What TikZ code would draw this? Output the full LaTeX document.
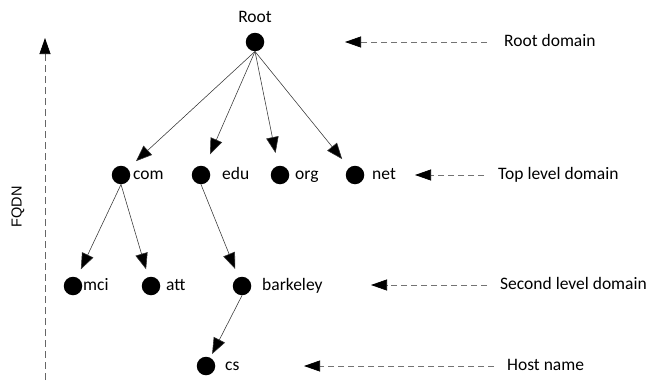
\documentclass[tikz,border=0pt]{standalone}
\usepackage{fontspec}
\setmainfont{Carlito}
\newfontfamily\axisfont{Liberation Sans}
\usetikzlibrary{arrows.meta}

\begin{document}
\begin{tikzpicture}[x=1pt,y=-1pt,
  dot/.style={circle,fill=black,minimum size=18.5pt,inner sep=0pt},
  lbl/.style={anchor=mid west,inner sep=0pt,font=\fontsize{17.5}{20}\selectfont},
  tree/.style={draw=black!80,line width=0.55pt,
    -{Triangle[length=16pt,width=12.5pt,fill=black]}},
  pointer/.style={draw=black!55,line width=0.7pt,dash pattern=on 6pt off 4pt,
    -{Triangle[length=16pt,width=11pt,color=black]}}]
  \useasboundingbox (0,0) rectangle (650,380);

  % domain tree
  \node[dot] (root) at (255,42) {};
  \node[anchor=base,inner sep=0pt,font=\fontsize{17.5}{20}\selectfont] (roottxt) at (255,22) {Root};

  \node[dot] (com) at (121,175) {};
  \node[dot] (edu) at (201,175) {};
  \node[dot] (org) at (280,175) {};
  \node[dot] (net) at (355,175) {};
  \node[lbl] (comtxt) at (133,177) {com};
  \node[lbl] (edutxt) at (222,177) {edu};
  \node[lbl] (orgtxt) at (295,177) {org};
  \node[lbl] (nettxt) at (372,177) {net};

  \node[dot] (mci) at (73,286) {};
  \node[dot] (att) at (151,286) {};
  \node[dot] (bark) at (242,286) {};
  \node[lbl] (mcitxt) at (83,288) {mci};
  \node[lbl] (atttxt) at (166,288) {att};
  \node[lbl] (barktxt) at (262,288) {barkeley};

  \node[dot] (cs) at (206,366) {};
  \node[lbl] (cstxt) at (225,368) {cs};

  \draw[tree,shorten >=11pt] (root.south) -- (com);
  \draw[tree,shorten >=13pt] (root.south) -- (edu);
  \draw[tree,shorten >=13pt] (root.south) -- (org);
  \draw[tree,shorten >=11pt] (root.south) -- (net);
  \draw[tree,shorten >=9pt] (com.south) -- (mci);
  \draw[tree,shorten >=8pt] (com.south) -- (att);
  \draw[tree,shorten >=9pt] (edu.south) -- (bark);
  \draw[tree,shorten >=4pt] (bark.south) -- (cs);

  % level captions with their pointers
  \node[lbl] (rootdom) at (504,44) {Root domain};
  \node[lbl] (topdom) at (498,177) {Top level domain};
  \node[lbl] (secdom) at (500,287) {Second level domain};
  \node[lbl] (host) at (507,368) {Host name};
  \coordinate (rootdomtip) at (345,42);
  \coordinate (topdomtip) at (415,175);
  \coordinate (secdomtip) at (371,285);
  \coordinate (hosttip) at (304,366);
  \draw[pointer] (487,42) -- (rootdomtip);
  \draw[pointer] (484,175) -- (topdomtip);
  \draw[pointer] (487,285) -- (secdomtip);
  \draw[pointer] (494,366) -- (hosttip);

  % FQDN axis
  \coordinate (axisbot) at (45,380);
  \coordinate (axistop) at (45,38);
  \draw[draw=black!60,line width=0.7pt,dash pattern=on 7pt off 4pt,
    -{Triangle[length=16pt,width=11pt,color=black]}] (axisbot) -- (axistop);
  \node[rotate=90,inner sep=0pt,font=\axisfont\fontsize{14.5}{16}\selectfont] (fqdn) at (18,207) {FQDN};
\end{tikzpicture}
\end{document}
